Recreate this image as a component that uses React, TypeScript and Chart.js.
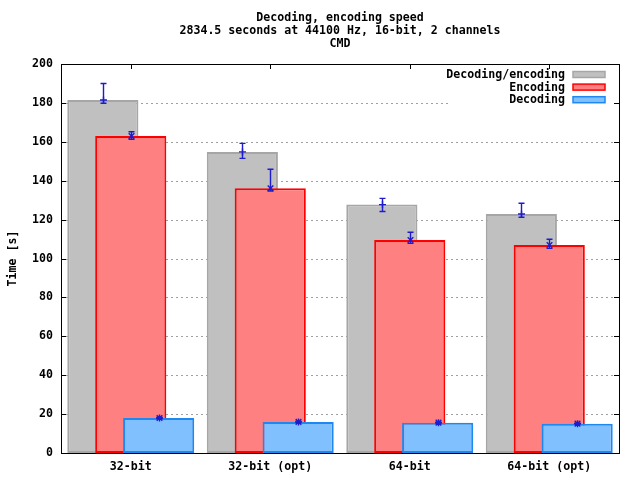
import React, { useEffect, useRef } from 'react';
import { Chart, registerables } from 'chart.js';

Chart.register(...registerables);

// ---------- data ----------
const titleLines = ['Decoding, encoding speed', '2834.5 seconds at 44100 Hz, 16-bit, 2 channels', 'CMD'];
const yAxisTitle = 'Time [s]';
const categories = ['32-bit', '32-bit (opt)', '64-bit', '64-bit (opt)'];
const seriesLabels = ['Decoding/encoding', 'Encoding', 'Decoding'];
const yTickValues = [0, 20, 40, 60, 80, 100, 120, 140, 160, 180, 200];

const totalValues = [181.5, 154.8, 127.7, 122.9];
const totalErrLow = [179.8, 151.5, 124.2, 121.2];
const totalErrHigh = [190.0, 159.2, 130.9, 128.4];

const encodingValues = [163.0, 136.1, 109.5, 106.9];
const encodingErrLow = [161.3, 134.7, 107.8, 105.2];
const encodingErrHigh = [165.2, 145.9, 113.5, 109.9];

const decodingValues = [18.0, 16.0, 15.6, 15.1];
const decodingErrLow = [17.6, 15.6, 15.2, 14.7];
const decodingErrHigh = [18.4, 16.4, 16.0, 15.5];

// ---------- styles ----------
const FONT_FAMILY = "'DejaVu Sans Mono', 'Liberation Mono', monospace";
const FONT_SIZE = 11.6;
const font = { family: FONT_FAMILY, size: FONT_SIZE, weight: 'bold' as const };
const fontStr = `bold ${FONT_SIZE}px ${FONT_FAMILY}`;
const ERR_COLOR = '#1c1ccc';
const GROUP_OFFSET = 0.2;
const BAR_WIDTH = 0.51;

const seriesStyle = [
  { fill: '#c0c0c0', border: '#a6a6a6', marker: 'plus', offset: -GROUP_OFFSET, order: 2 },
  { fill: '#ff8080', border: '#ff0000', marker: 'cross', offset: 0, order: 1 },
  { fill: '#80c0ff', border: '#1e88f0', marker: 'star', offset: GROUP_OFFSET, order: 0 },
];
const seriesValues = [totalValues, encodingValues, decodingValues];
const seriesLow = [totalErrLow, encodingErrLow, decodingErrLow];
const seriesHigh = [totalErrHigh, encodingErrHigh, decodingErrHigh];

function drawMarker(ctx: CanvasRenderingContext2D, kind: string, x: number, y: number, r: number) {
  ctx.beginPath();
  if (kind === 'plus' || kind === 'star') {
    ctx.moveTo(x - r, y); ctx.lineTo(x + r, y);
    ctx.moveTo(x, y - r); ctx.lineTo(x, y + r);
  }
  if (kind === 'cross' || kind === 'star') {
    const d = r * 0.8;
    ctx.moveTo(x - d, y - d); ctx.lineTo(x + d, y + d);
    ctx.moveTo(x - d, y + d); ctx.lineTo(x + d, y - d);
  }
  ctx.stroke();
}

const gnuplotPlugin = {
  id: 'gnuplotDecor',
  beforeDatasetsDraw(chart: any) {
    const { ctx, chartArea } = chart;
    const ys = chart.scales.y;
    const xs = chart.scales.x;
    ctx.save();
    // grid
    ctx.strokeStyle = '#a0a0a0';
    ctx.lineWidth = 1;
    ctx.setLineDash([2, 3]);
    yTickValues.forEach((v) => {
      if (v === ys.min || v === ys.max) return;
      const y = Math.round(ys.getPixelForValue(v)) + 0.5;
      ctx.beginPath();
      ctx.moveTo(chartArea.left, y);
      ctx.lineTo(chartArea.right, y);
      ctx.stroke();
    });
    ctx.setLineDash([]);
    // tick marks
    ctx.strokeStyle = '#000';
    const tl = 5;
    yTickValues.forEach((v) => {
      const y = Math.round(ys.getPixelForValue(v)) + 0.5;
      ctx.beginPath();
      ctx.moveTo(chartArea.left, y); ctx.lineTo(chartArea.left + tl, y);
      ctx.moveTo(chartArea.right, y); ctx.lineTo(chartArea.right - tl, y);
      ctx.stroke();
    });
    categories.forEach((_, i) => {
      const x = Math.round(xs.getPixelForValue(i)) + 0.5;
      ctx.beginPath();
      ctx.moveTo(x, chartArea.top); ctx.lineTo(x, chartArea.top + tl);
      ctx.moveTo(x, chartArea.bottom); ctx.lineTo(x, chartArea.bottom - tl);
      ctx.stroke();
    });
    ctx.restore();
  },
  afterDatasetsDraw(chart: any) {
    const { ctx, chartArea } = chart;
    const ys = chart.scales.y;
    ctx.save();
    // error bars
    ctx.strokeStyle = ERR_COLOR;
    ctx.lineWidth = 1.4;
    chart.data.datasets.forEach((ds: any, di: number) => {
      const meta = chart.getDatasetMeta(di);
      meta.data.forEach((bar: any, i: number) => {
        const x = Math.round(bar.x) + 0.5;
        const yl = ys.getPixelForValue(ds.errLow[i]);
        const yh = ys.getPixelForValue(ds.errHigh[i]);
        const yv = ys.getPixelForValue(ds.data[i].y);
        const cap = 3;
        ctx.beginPath();
        ctx.moveTo(x, yh); ctx.lineTo(x, yl);
        ctx.moveTo(x - cap, yh); ctx.lineTo(x + cap, yh);
        ctx.moveTo(x - cap, yl); ctx.lineTo(x + cap, yl);
        ctx.stroke();
        drawMarker(ctx, ds.marker, x, yv, 3.5);
      });
    });
    // legend (key)
    const boxLeft = chartArea.right - 171;
    const boxTop = chartArea.top + 6;
    ctx.fillStyle = '#fff';
    ctx.fillRect(boxLeft, boxTop, 165, 40);
    ctx.font = fontStr;
    ctx.textAlign = 'right';
    ctx.textBaseline = 'middle';
    seriesLabels.forEach((label, s) => {
      const yc = chartArea.top + 10.5 + s * 12.6;
      ctx.fillStyle = '#000';
      ctx.fillText(label, chartArea.right - 54, yc + 0.5);
      const sx = chartArea.right - 46;
      ctx.fillStyle = seriesStyle[s].fill;
      ctx.fillRect(sx, yc - 3, 32, 6);
      ctx.strokeStyle = seriesStyle[s].border;
      ctx.lineWidth = 1.5;
      ctx.strokeRect(sx, yc - 3, 32, 6);
    });
    ctx.restore();
  },
  afterDraw(chart: any) {
    const { ctx, chartArea } = chart;
    ctx.save();
    // border
    ctx.strokeStyle = '#000';
    ctx.lineWidth = 1;
    const l = Math.round(chartArea.left) + 0.5;
    const t = Math.round(chartArea.top) + 0.5;
    const r = Math.round(chartArea.right) + 0.5;
    const b = Math.round(chartArea.bottom) + 0.5;
    ctx.strokeRect(l, t, r - l, b - t);
    // title
    ctx.fillStyle = '#000';
    ctx.font = fontStr;
    ctx.textAlign = 'center';
    ctx.textBaseline = 'middle';
    const cx = (chartArea.left + chartArea.right) / 2;
    titleLines.forEach((line, i) => {
      ctx.fillText(line, cx, chartArea.top - 46 + i * 13);
    });
    ctx.restore();
  },
};

export default function App() {
  const canvasRef = useRef<HTMLCanvasElement | null>(null);

  useEffect(() => {
    const canvas = canvasRef.current;
    if (!canvas) return;
    const datasets = seriesLabels.map((label, s) => ({
      label,
      data: categories.map((_, i) => ({ x: i + seriesStyle[s].offset, y: seriesValues[s][i] })),
      backgroundColor: seriesStyle[s].fill,
      borderColor: seriesStyle[s].border,
      borderWidth: 2,
      borderSkipped: false,
      grouped: false,
      barPercentage: BAR_WIDTH / GROUP_OFFSET,
      categoryPercentage: 1,
      order: seriesStyle[s].order,
      errLow: seriesLow[s],
      errHigh: seriesHigh[s],
      marker: seriesStyle[s].marker,
    }));

    const chart = new Chart(canvas, {
      type: 'bar',
      data: { datasets } as any,
      options: {
        animation: false,
        responsive: false,
        events: [],
        layout: { padding: { top: 64, right: 21, bottom: 0, left: 0 } },
        plugins: {
          legend: { display: false },
          title: { display: false },
          tooltip: { enabled: false },
        },
        scales: {
          x: {
            type: 'linear',
            offset: false,
            min: -0.5,
            max: 3.5,
            grid: { display: false, drawTicks: false, offset: false },
            border: { display: false },
            afterBuildTicks: (scale: any) => {
              scale.ticks = categories.map((_, i) => ({ value: i }));
            },
            afterFit: (scale: any) => {
              scale.height = 27;
            },
            ticks: {
              callback: (v: any) => categories[v] ?? '',
              font,
              color: '#000',
              padding: 7,
              autoSkip: false,
              maxRotation: 0,
            },
          },
          y: {
            min: 0,
            max: 200,
            grid: { display: false, drawTicks: false },
            border: { display: false },
            afterBuildTicks: (scale: any) => {
              scale.ticks = yTickValues.map((v) => ({ value: v }));
            },
            afterFit: (scale: any) => {
              scale.width = 61;
            },
            ticks: { font, color: '#000', padding: 8 },
            title: {
              display: true,
              text: yAxisTitle,
              font,
              color: '#000',
              padding: { top: 6, bottom: 0 },
            },
          },
        },
      } as any,
      plugins: [gnuplotPlugin],
    });
    return () => chart.destroy();
  }, []);

  return (
    <div style={{ position: 'absolute', left: 0, top: 0, width: 640, height: 480, background: '#fff' }}>
      <canvas ref={canvasRef} width={640} height={480} style={{ display: 'block' }} />
    </div>
  );
}
